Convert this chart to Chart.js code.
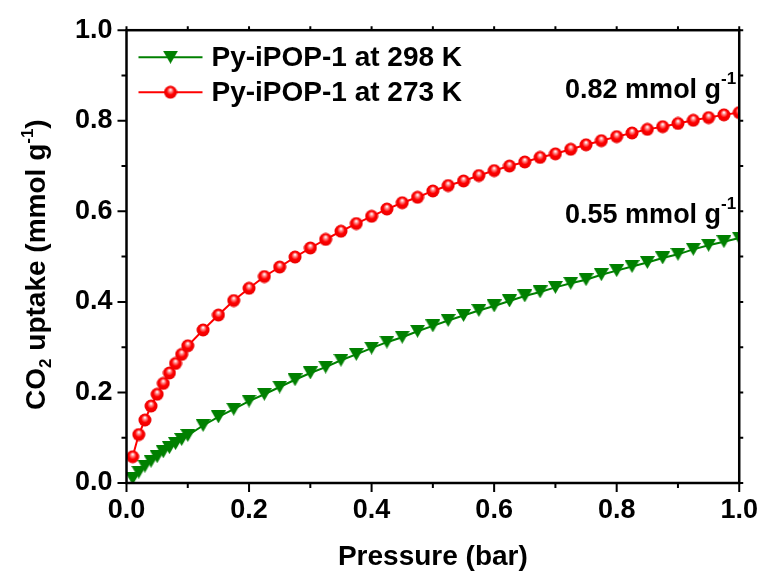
<!DOCTYPE html>
<html lang="en">
<head>
    <meta charset="UTF-8">
    <title>CO2 uptake - Py-iPOP-1</title>
    <script src="https://cdn.jsdelivr.net/npm/chart.js"></script>
    <style>
        body {
            margin: 0;
            background: #fff;
        }
        #chart {
            display: block;
        }
    </style>
</head>
<body>
    <canvas id="chart" width="769" height="577"></canvas>

    <script>
        // Data (bar, mmol/g)
        const pressure = [0.01, 0.02, 0.03, 0.04, 0.05, 0.06, 0.07, 0.08, 0.09, 0.10,
            0.125, 0.15, 0.175, 0.2, 0.225, 0.25, 0.275, 0.3, 0.325, 0.35,
            0.375, 0.4, 0.425, 0.45, 0.475, 0.5, 0.525, 0.55, 0.575, 0.6,
            0.625, 0.65, 0.675, 0.7, 0.725, 0.75, 0.775, 0.8, 0.825, 0.85,
            0.875, 0.9, 0.925, 0.95, 0.975, 1.0];
        const uptake298 = [0.010, 0.024, 0.037, 0.048, 0.058, 0.069, 0.078, 0.087, 0.096, 0.105,
            0.127, 0.146, 0.163, 0.181, 0.196, 0.212, 0.228, 0.243, 0.256, 0.271,
            0.284, 0.298, 0.311, 0.322, 0.335, 0.347, 0.359, 0.370, 0.381, 0.391,
            0.402, 0.413, 0.422, 0.432, 0.441, 0.449, 0.460, 0.469, 0.478, 0.487,
            0.497, 0.505, 0.516, 0.525, 0.533, 0.541];
        const uptake273 = [0.058, 0.107, 0.139, 0.170, 0.196, 0.220, 0.243, 0.264, 0.284, 0.303,
            0.338, 0.371, 0.403, 0.430, 0.456, 0.477, 0.499, 0.519, 0.538, 0.556,
            0.573, 0.589, 0.605, 0.619, 0.631, 0.645, 0.657, 0.667, 0.679, 0.690,
            0.700, 0.709, 0.719, 0.727, 0.737, 0.747, 0.756, 0.765, 0.773, 0.781,
            0.787, 0.794, 0.801, 0.807, 0.813, 0.818];
        const seriesLabels = ['Py-iPOP-1 at 298 K', 'Py-iPOP-1 at 273 K'];
        const majorTicks = [0, 0.2, 0.4, 0.6, 0.8, 1.0];
        const minorTicks = [0.1, 0.3, 0.5, 0.7, 0.9];
        const notes = [
            { text: '0.82 mmol g', sup: '-1', at: 0.85 },
            { text: '0.55 mmol g', sup: '-1', at: 0.574 }
        ];

        const FONT = "'Liberation Sans', Arial, sans-serif";
        Chart.defaults.font.family = FONT;
        Chart.defaults.color = '#000';

        // shiny red ball marker
        function makeBall(r) {
            const c = document.createElement('canvas');
            c.width = c.height = 2 * r + 1;
            const g = c.getContext('2d');
            const m = r + 0.5;
            const grad = g.createRadialGradient(m, m - r * 0.4, r * 0.05, m, m, r);
            grad.addColorStop(0, '#ffffff');
            grad.addColorStop(0.25, '#ff8080');
            grad.addColorStop(0.55, '#ff0000');
            grad.addColorStop(1, '#e80000');
            g.fillStyle = grad;
            g.beginPath();
            g.arc(m, m, r, 0, Math.PI * 2);
            g.fill();
            return c;
        }

        // green down triangle marker
        function makeTriangle(w, h) {
            const c = document.createElement('canvas');
            c.width = w;
            c.height = h;
            const g = c.getContext('2d');
            g.fillStyle = '#008000';
            g.beginPath();
            g.moveTo(0, 0);
            g.lineTo(w, 0);
            g.lineTo(w / 2, h);
            g.closePath();
            g.fill();
            return c;
        }

        const ball = makeBall(6.5);
        const tri = makeTriangle(15, 13);

        // text with sub/superscripts, drawn from (x, y) baseline
        function richWidth(ctx, parts) {
            let w = 0;
            for (const p of parts) {
                ctx.font = 'bold ' + p.size + 'px ' + FONT;
                w += ctx.measureText(p.t).width;
            }
            return w;
        }
        function drawRich(ctx, parts, x, y) {
            for (const p of parts) {
                ctx.font = 'bold ' + p.size + 'px ' + FONT;
                ctx.fillText(p.t, x, y + p.dy);
                x += ctx.measureText(p.t).width;
            }
        }

        const extras = {
            id: 'extras',
            afterDraw(chart) {
                const { ctx, chartArea: a, scales: { x, y } } = chart;
                ctx.save();
                ctx.fillStyle = '#000';
                ctx.strokeStyle = '#000';

                // frame
                ctx.lineWidth = 2.5;
                ctx.strokeRect(a.left, a.top, a.right - a.left, a.bottom - a.top);

                // ticks
                ctx.lineWidth = 2;
                ctx.beginPath();
                const tick = (vals, len) => {
                    for (const v of vals) {
                        const px = x.getPixelForValue(v);
                        const py = y.getPixelForValue(v);
                        ctx.moveTo(px, a.bottom); ctx.lineTo(px, a.bottom + len);
                        ctx.moveTo(a.left, py); ctx.lineTo(a.left - len, py);
                        ctx.moveTo(px, a.top); ctx.lineTo(px, a.top - 4);
                        ctx.moveTo(a.right, py); ctx.lineTo(a.right + 4, py);
                    }
                };
                tick(majorTicks, 9);
                tick(minorTicks, 5);
                ctx.stroke();

                // y axis title
                const yParts = [
                    { t: 'CO', size: 28, dy: 0 },
                    { t: '2', size: 17, dy: 6 },
                    { t: ' uptake (mmol g', size: 28, dy: 0 },
                    { t: '-1', size: 17, dy: -12 },
                    { t: ')', size: 28, dy: 0 }
                ];
                const tw = richWidth(ctx, yParts);
                ctx.save();
                ctx.translate(45, (a.top + a.bottom) / 2 + 8);
                ctx.rotate(-Math.PI / 2);
                ctx.textBaseline = 'alphabetic';
                drawRich(ctx, yParts, -tw / 2, 0);
                ctx.restore();

                // value notes
                for (const n of notes) {
                    const parts = [
                        { t: n.text, size: 27, dy: 0 },
                        { t: n.sup, size: 17, dy: -14 }
                    ];
                    const w = richWidth(ctx, parts);
                    drawRich(ctx, parts, x.getPixelForValue(1.0) - 3 - w, y.getPixelForValue(n.at));
                }

                // legend
                chart.data.datasets.forEach((ds, i) => {
                    const ly = a.top + 27 + i * 35;
                    ctx.strokeStyle = ds.borderColor;
                    ctx.lineWidth = 2;
                    ctx.beginPath();
                    ctx.moveTo(a.left + 12, ly);
                    ctx.lineTo(a.left + 76, ly);
                    ctx.stroke();
                    const img = ds.pointStyle;
                    ctx.drawImage(img, a.left + 44 - img.width / 2, ly - img.height / 2);
                    ctx.font = 'bold 28px ' + FONT;
                    ctx.textBaseline = 'middle';
                    ctx.fillText(ds.label, a.left + 85, ly + 1);
                });
                ctx.restore();
            }
        };

        const ctx = document.getElementById('chart').getContext('2d');
        new Chart(ctx, {
            type: 'line',
            data: {
                datasets: [{
                    label: seriesLabels[0],
                    data: pressure.map((p, i) => ({ x: p, y: uptake298[i] })),
                    borderColor: '#008000',
                    borderWidth: 2,
                    pointStyle: tri,
                    pointRadius: 7,
                    clip: 0
                }, {
                    label: seriesLabels[1],
                    data: pressure.map((p, i) => ({ x: p, y: uptake273[i] })),
                    borderColor: '#ff0000',
                    borderWidth: 2,
                    pointStyle: ball,
                    pointRadius: 7,
                    clip: 0
                }]
            },
            options: {
                responsive: false,
                animation: false,
                layout: { padding: { top: 30, right: 26, left: 0, bottom: 0 } },
                plugins: {
                    legend: { display: false },
                    tooltip: { enabled: false }
                },
                scales: {
                    x: {
                        type: 'linear',
                        min: 0,
                        max: 1,
                        grid: { display: false, drawTicks: false },
                        border: { display: false },
                        ticks: {
                            stepSize: 0.2,
                            padding: 11,
                            maxRotation: 0,
                            font: { size: 27, weight: 'bold' },
                            callback: v => v.toFixed(1)
                        },
                        title: {
                            display: true,
                            text: 'Pressure (bar)',
                            font: { size: 28, weight: 'bold' },
                            padding: { top: 0, bottom: 3 }
                        },
                        afterFit: s => { s.height = 94; }
                    },
                    y: {
                        min: 0,
                        max: 1,
                        grid: { display: false, drawTicks: false },
                        border: { display: false },
                        ticks: {
                            stepSize: 0.2,
                            padding: 14,
                            font: { size: 27, weight: 'bold' },
                            callback: v => v.toFixed(1)
                        },
                        afterFit: s => { s.width = 126.5; }
                    }
                }
            },
            plugins: [extras]
        });
    </script>
</body>
</html>
